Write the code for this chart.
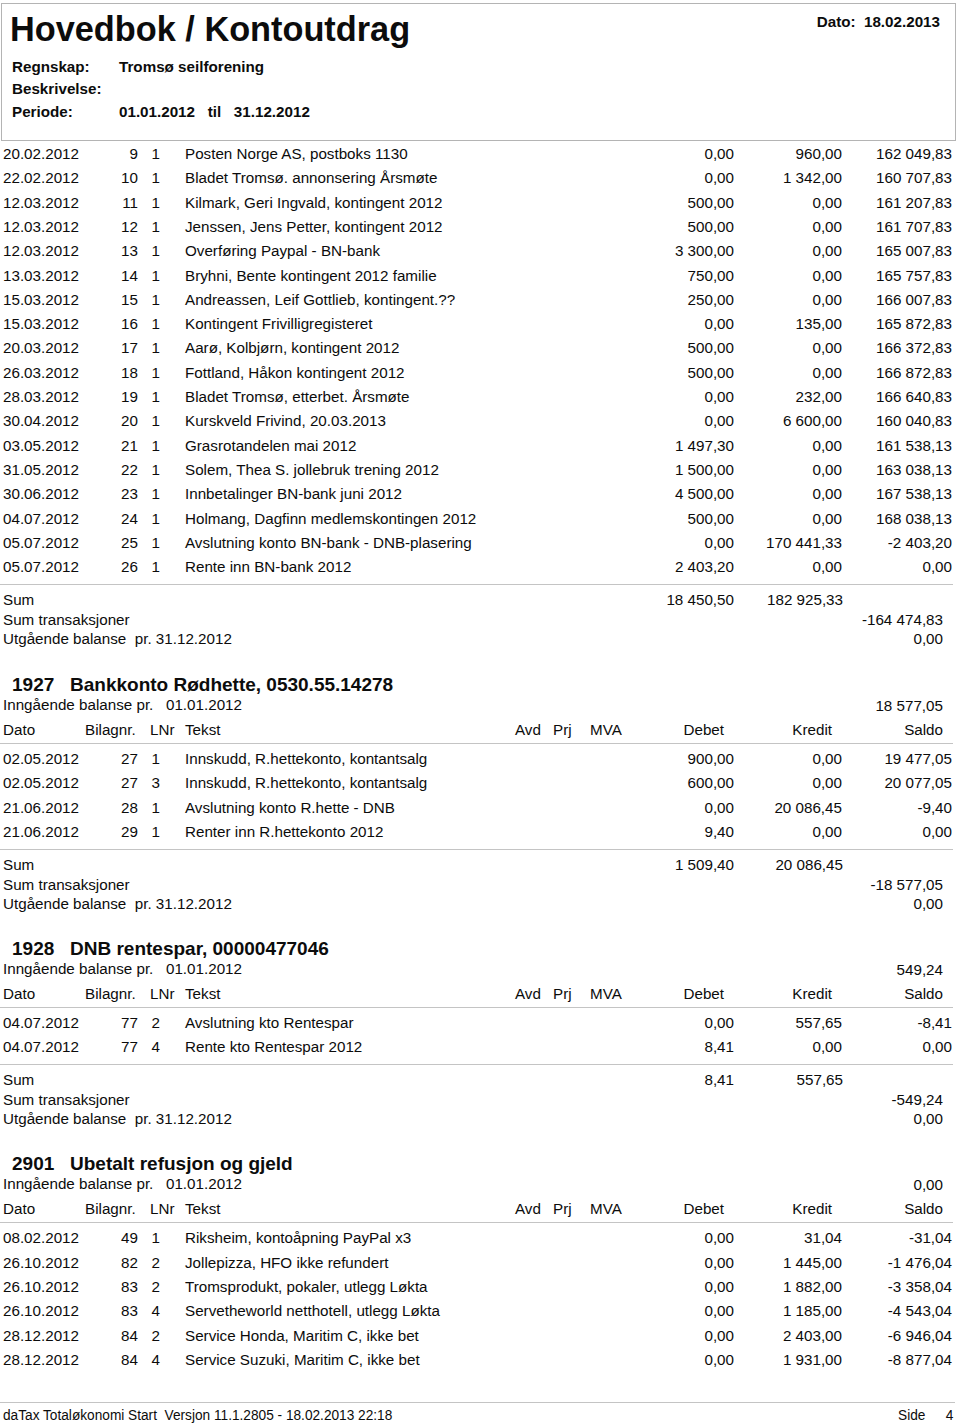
<!DOCTYPE html>
<html>
<head>
<meta charset="utf-8">
<script src="https://cdn.jsdelivr.net/npm/chart.js@4.4.1/dist/chart.umd.min.js"></script>
<style>
  html, body { margin: 0; padding: 0; background: #fff; }
  #page { position: relative; width: 960px; height: 1427px; overflow: hidden;
          font-family: "Liberation Sans", Arial, Helvetica, sans-serif; font-size: 15.2px; color: #0c0c0c; }
  #page div { position: absolute; white-space: pre; line-height: 20px; }
  .rule { height: 1px; background: #c4c4c4; line-height: 0 !important; }
  .box { border: 1px solid #b4b4b4; }
</style>
</head>
<body>
<div id="page"></div>
<script>
// rows: dato, bilagnr, lnr, tekst, debet, kredit, saldo
const rowsCarried = [
  ['20.02.2012', 9, 1, 'Posten Norge AS, postboks 1130', 0, 960, 162049.83],
  ['22.02.2012', 10, 1, 'Bladet Tromsø. annonsering Årsmøte', 0, 1342, 160707.83],
  ['12.03.2012', 11, 1, 'Kilmark, Geri Ingvald, kontingent 2012', 500, 0, 161207.83],
  ['12.03.2012', 12, 1, 'Jenssen, Jens Petter, kontingent 2012', 500, 0, 161707.83],
  ['12.03.2012', 13, 1, 'Overføring Paypal - BN-bank', 3300, 0, 165007.83],
  ['13.03.2012', 14, 1, 'Bryhni, Bente kontingent 2012 familie', 750, 0, 165757.83],
  ['15.03.2012', 15, 1, 'Andreassen, Leif Gottlieb, kontingent.??', 250, 0, 166007.83],
  ['15.03.2012', 16, 1, 'Kontingent Frivilligregisteret', 0, 135, 165872.83],
  ['20.03.2012', 17, 1, 'Aarø, Kolbjørn, kontingent 2012', 500, 0, 166372.83],
  ['26.03.2012', 18, 1, 'Fottland, Håkon kontingent 2012', 500, 0, 166872.83],
  ['28.03.2012', 19, 1, 'Bladet Tromsø, etterbet. Årsmøte', 0, 232, 166640.83],
  ['30.04.2012', 20, 1, 'Kurskveld Frivind, 20.03.2013', 0, 6600, 160040.83],
  ['03.05.2012', 21, 1, 'Grasrotandelen mai 2012', 1497.30, 0, 161538.13],
  ['31.05.2012', 22, 1, 'Solem, Thea S. jollebruk trening 2012', 1500, 0, 163038.13],
  ['30.06.2012', 23, 1, 'Innbetalinger BN-bank juni 2012', 4500, 0, 167538.13],
  ['04.07.2012', 24, 1, 'Holmang, Dagfinn medlemskontingen 2012', 500, 0, 168038.13],
  ['05.07.2012', 25, 1, 'Avslutning konto BN-bank - DNB-plasering', 0, 170441.33, -2403.20],
  ['05.07.2012', 26, 1, 'Rente inn BN-bank 2012', 2403.20, 0, 0]
];
const rows1927 = [
  ['02.05.2012', 27, 1, 'Innskudd, R.hettekonto, kontantsalg', 900, 0, 19477.05],
  ['02.05.2012', 27, 3, 'Innskudd, R.hettekonto, kontantsalg', 600, 0, 20077.05],
  ['21.06.2012', 28, 1, 'Avslutning konto R.hette - DNB', 0, 20086.45, -9.40],
  ['21.06.2012', 29, 1, 'Renter inn R.hettekonto 2012', 9.40, 0, 0]
];
const rows1928 = [
  ['04.07.2012', 77, 2, 'Avslutning kto Rentespar', 0, 557.65, -8.41],
  ['04.07.2012', 77, 4, 'Rente kto Rentespar 2012', 8.41, 0, 0]
];
const rows2901 = [
  ['08.02.2012', 49, 1, 'Riksheim, kontoåpning PayPal x3', 0, 31.04, -31.04],
  ['26.10.2012', 82, 2, 'Jollepizza, HFO ikke refundert', 0, 1445, -1476.04],
  ['26.10.2012', 83, 2, 'Tromsprodukt, pokaler, utlegg Løkta', 0, 1882, -3358.04],
  ['26.10.2012', 83, 4, 'Servetheworld netthotell, utlegg Løkta', 0, 1185, -4543.04],
  ['28.12.2012', 84, 2, 'Service Honda, Maritim C, ikke bet', 0, 2403, -6946.04],
  ['28.12.2012', 84, 4, 'Service Suzuki, Maritim C, ikke bet', 0, 1931, -8877.04]
];
// sums: debet, kredit, sum transaksjoner, utgående balanse
const sumsCarried = [18450.50, 182925.33, -164474.83, 0];
const sums1927 = [1509.40, 20086.45, -18577.05, 0];
const sums1928 = [8.41, 557.65, -549.24, 0];
// kontoer: nr, navn, inngående balanse
const accounts = [
  ['1927', 'Bankkonto Rødhette, 0530.55.14278', 18577.05],
  ['1928', 'DNB rentespar, 00000477046', 549.24],
  ['2901', 'Ubetalt refusjon og gjeld', 0]
];
const columnLabels = ['Dato', 'Bilagnr.', 'LNr', 'Tekst', 'Avd', 'Prj', 'MVA', 'Debet', 'Kredit', 'Saldo'];

const W = 960, ROW = 24.3;
const page = document.getElementById('page');

function fmt(v) {
  const s = Math.abs(v).toFixed(2).split('.');
  const i = s[0].replace(/\B(?=(\d{3})+(?!\d))/g, ' ');
  return (v < 0 ? '-' : '') + i + ',' + s[1];
}

function put(text, x, y, o) {
  o = o || {};
  const d = document.createElement('div');
  d.textContent = text;
  d.style.top = (y - 10) + 'px';
  if (o.right) d.style.right = (W - x) + 'px'; else d.style.left = x + 'px';
  if (o.bold) d.style.fontWeight = 'bold';
  if (o.size) d.style.fontSize = o.size + 'px';
  if (o.squeeze) {
    d.style.transform = 'scaleX(' + o.squeeze + ')';
    d.style.transformOrigin = o.right ? 'right center' : 'left center';
  }
  page.appendChild(d);
  return d;
}

function rule(y, x0, x1) {
  const d = document.createElement('div');
  d.className = 'rule';
  d.style.top = y + 'px';
  d.style.left = x0 + 'px';
  d.style.width = (x1 - x0) + 'px';
  page.appendChild(d);
}

function drawRows(rows, y0) {
  rows.forEach((r, i) => {
    const y = y0 + i * ROW;
    put(r[0], 3, y);
    put(String(r[1]), 138, y, { right: true });
    put(String(r[2]), 160, y, { right: true });
    put(r[3], 185, y);
    put(fmt(r[4]), 734, y, { right: true });
    put(fmt(r[5]), 842, y, { right: true });
    put(fmt(r[6]), 952, y, { right: true });
  });
  return y0 + (rows.length - 1) * ROW;
}

function drawSums(sums, yLast) {
  const yl = yLast + 17;
  rule(yl, 0, 953);
  const y = yl + 16;
  put('Sum', 3, y);
  put(fmt(sums[0]), 734, y, { right: true });
  put(fmt(sums[1]), 843, y, { right: true });
  put('Sum transaksjoner', 3, y + 20);
  put(fmt(sums[2]), 943, y + 20, { right: true });
  put('Utgående balanse  pr. 31.12.2012', 3, y + 39);
  put(fmt(sums[3]), 943, y + 39, { right: true });
  return y + 39;
}

function drawAccount(acc, h) {
  put(acc[0], 12, h, { bold: true, size: 19 });
  put(acc[1], 70, h, { bold: true, size: 19 });
  put('Inngående balanse pr.   01.01.2012', 3, h + 20);
  put(fmt(acc[2]), 943, h + 21, { right: true });
  const y = h + 45;
  const L = columnLabels;
  put(L[0], 3, y); put(L[1], 85, y); put(L[2], 150, y); put(L[3], 185, y);
  put(L[4], 515, y); put(L[5], 553, y); put(L[6], 590, y);
  put(L[7], 724, y, { right: true }); put(L[8], 832, y, { right: true }); put(L[9], 943, y, { right: true });
  rule(h + 58, 0, 953);
  return h + 74;
}

// header box
const box = document.createElement('div');
box.className = 'box';
box.style.left = '1px'; box.style.top = '3px'; box.style.width = '953px'; box.style.height = '136px';
page.appendChild(box);
put('Hovedbok / Kontoutdrag', 10, 29, { bold: true, size: 34.3 });
put('Dato:  18.02.2013', 940, 21.5, { right: true, bold: true });
put('Regnskap:', 12, 66.5, { bold: true });
put('Tromsø seilforening', 119, 66.5, { bold: true });
put('Beskrivelse:', 12, 89, { bold: true });
put('Periode:', 12, 112, { bold: true });
put('01.01.2012   til   31.12.2012', 119, 112, { bold: true });

// carried section from previous page
let yEnd = drawSums(sumsCarried, drawRows(rowsCarried, 154));
let h = yEnd + 46;
yEnd = drawSums(sums1927, drawRows(rows1927, drawAccount(accounts[0], h)));
h = yEnd + 45;
yEnd = drawSums(sums1928, drawRows(rows1928, drawAccount(accounts[1], h)));
h = yEnd + 45;
drawRows(rows2901, drawAccount(accounts[2], h));

// footer
rule(1402, 0, 955);
put('daTax Totaløkonomi Start  Versjon 11.1.2805 - 18.02.2013 22:18', 3, 1415, { squeeze: 0.9 });
put('Side', 925, 1415, { right: true, squeeze: 0.9 });
put('4', 953, 1415, { right: true, squeeze: 0.9 });
</script>
</body>
</html>
